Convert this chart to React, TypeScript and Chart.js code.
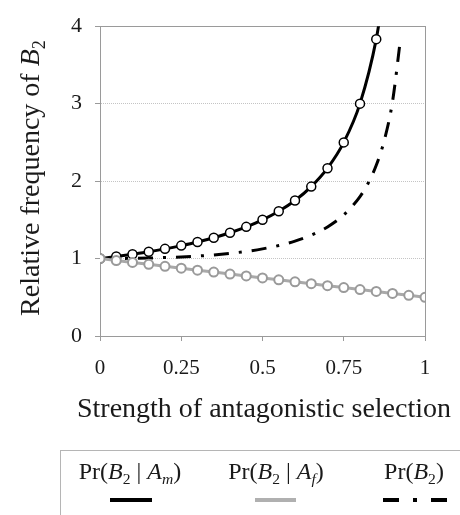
import React, { useEffect, useRef } from "react";
import { Chart, registerables } from "chart.js";

Chart.register(...registerables);

// Strength of antagonistic selection (x) and relative frequency of B2 (y)
const sAm = [0, 0.05, 0.1, 0.15, 0.2, 0.25, 0.3, 0.35, 0.4, 0.45, 0.5, 0.55, 0.6, 0.65, 0.7, 0.75, 0.8, 0.85, 0.875];
const prAm = [1, 1.026, 1.056, 1.088, 1.125, 1.167, 1.214, 1.269, 1.333, 1.409, 1.5, 1.611, 1.75, 1.929, 2.167, 2.5, 3.0, 3.833, 4.5];
const markerAm = [true, true, true, true, true, true, true, true, true, true, true, true, true, true, true, true, true, true, false];

const sAf = [0, 0.05, 0.1, 0.15, 0.2, 0.25, 0.3, 0.35, 0.4, 0.45, 0.5, 0.55, 0.6, 0.65, 0.7, 0.75, 0.8, 0.85, 0.9, 0.95, 1];
const prAf = [1, 0.975, 0.95, 0.925, 0.9, 0.875, 0.85, 0.825, 0.8, 0.775, 0.75, 0.725, 0.7, 0.675, 0.65, 0.625, 0.6, 0.575, 0.55, 0.525, 0.5];

const sB2 = [0, 0.05, 0.1, 0.15, 0.2, 0.25, 0.3, 0.35, 0.4, 0.45, 0.5, 0.55, 0.6, 0.65, 0.7, 0.75, 0.8, 0.825, 0.85, 0.875, 0.9, 0.925];
const prB2 = [1, 1.001, 1.003, 1.007, 1.013, 1.021, 1.032, 1.047, 1.067, 1.092, 1.125, 1.168, 1.225, 1.302, 1.408, 1.563, 1.8, 1.972, 2.204, 2.531, 3.025, 3.852];

const xTicks = [0, 0.25, 0.5, 0.75, 1];
const yTicks = [0, 1, 2, 3, 4];

const FONT = "'Liberation Serif', 'Times New Roman', serif";

type Seg = { t: string; i?: boolean; sub?: boolean };

const yTitle: Seg[] = [{ t: "Relative frequency of " }, { t: "B", i: true }, { t: "2", sub: true }];
const xTitle: Seg[] = [{ t: "Strength of antagonistic selection" }];
const legendLabels: Seg[][] = [
  [{ t: "Pr(" }, { t: "B", i: true }, { t: "2", sub: true }, { t: " | " }, { t: "A", i: true }, { t: "m", i: true, sub: true }, { t: ")" }],
  [{ t: "Pr(" }, { t: "B", i: true }, { t: "2", sub: true }, { t: " | " }, { t: "A", i: true }, { t: "f", i: true, sub: true }, { t: ")" }],
  [{ t: "Pr(" }, { t: "B", i: true }, { t: "2", sub: true }, { t: ")" }],
];

function segFont(s: Seg, size: number) {
  const sz = s.sub ? size * 0.65 : size;
  return `${s.i ? "italic " : ""}${sz}px ${FONT}`;
}

function richWidth(ctx: CanvasRenderingContext2D, segs: Seg[], size: number) {
  let w = 0;
  for (const s of segs) {
    ctx.font = segFont(s, size);
    w += ctx.measureText(s.t).width;
  }
  return w;
}

function drawRich(ctx: CanvasRenderingContext2D, segs: Seg[], cx: number, baseline: number, size: number) {
  const w = richWidth(ctx, segs, size);
  let x = cx - w / 2;
  ctx.textAlign = "left";
  ctx.textBaseline = "alphabetic";
  for (const s of segs) {
    ctx.font = segFont(s, size);
    ctx.fillText(s.t, x, baseline + (s.sub ? size * 0.22 : 0));
    x += ctx.measureText(s.t).width;
  }
}

const decorPlugin = {
  id: "decor",
  beforeDatasetsDraw(chart: any) {
    const { ctx, chartArea: a } = chart;
    ctx.save();
    ctx.strokeStyle = "#9a9a9a";
    ctx.lineWidth = 1;
    ctx.strokeRect(Math.round(a.left) + 0.5, Math.round(a.top) + 0.5, Math.round(a.right - a.left), Math.round(a.bottom - a.top));
    ctx.restore();
  },
  afterDraw(chart: any) {
    const ctx: CanvasRenderingContext2D = chart.ctx;
    ctx.save();
    ctx.fillStyle = "#1a1a1a";
    // axis titles
    drawRich(ctx, xTitle, 264, 417, 28);
    ctx.save();
    ctx.translate(39, 178);
    ctx.rotate(-Math.PI / 2);
    drawRich(ctx, yTitle, 0, 0, 28);
    ctx.restore();

    // legend box
    ctx.strokeStyle = "#b5b5b5";
    ctx.lineWidth = 1;
    ctx.strokeRect(60.5, 450.5, 420, 80);

    const centers = [130, 276, 414];
    legendLabels.forEach((segs, k) => drawRich(ctx, segs, centers[k], 479, 24));

    ctx.lineWidth = 4;
    ctx.lineCap = "butt";
    ctx.strokeStyle = "#000";
    ctx.beginPath();
    ctx.moveTo(110, 500);
    ctx.lineTo(152, 500);
    ctx.stroke();
    ctx.strokeStyle = "#b0b0b0";
    ctx.beginPath();
    ctx.moveTo(255, 500);
    ctx.lineTo(296, 500);
    ctx.stroke();
    ctx.strokeStyle = "#000";
    ctx.setLineDash([16, 14, 4, 14]);
    ctx.beginPath();
    ctx.moveTo(383, 500);
    ctx.lineTo(448, 500);
    ctx.stroke();
    ctx.restore();
  },
};

export default function App() {
  const ref = useRef<HTMLCanvasElement | null>(null);

  useEffect(() => {
    if (!ref.current) return;
    const chart = new Chart(ref.current, {
      type: "line",
      data: {
        datasets: [
          {
            label: "Pr(B2 | Af)",
            data: sAf.map((x, i) => ({ x, y: prAf[i] })),
            borderColor: "#a9a9a9",
            borderWidth: 3,
            pointRadius: 4.5,
            pointBackgroundColor: "#ffffff",
            pointBorderColor: "#9a9a9a",
            pointBorderWidth: 2,
            order: 0,
          },
          {
            label: "Pr(B2 | Am)",
            data: sAm.map((x, i) => ({ x, y: prAm[i] })),
            borderColor: "#000000",
            borderWidth: 3,
            pointRadius: markerAm.map((m) => (m ? 4.5 : 0)),
            pointBackgroundColor: "#ffffff",
            pointBorderColor: "#000000",
            pointBorderWidth: 1.5,
            cubicInterpolationMode: "monotone",
            order: 1,
          },
          {
            label: "Pr(B2)",
            data: sB2.map((x, i) => ({ x, y: prB2[i] })),
            borderColor: "#000000",
            borderWidth: 3,
            borderDash: [15, 10, 3, 10],
            pointRadius: 0,
            cubicInterpolationMode: "monotone",
            order: 2,
          },
        ],
      },
      options: {
        animation: false,
        responsive: false,
        devicePixelRatio: 1,
        layout: { padding: { left: 0, top: 17, right: 35, bottom: 0 } },
        plugins: { legend: { display: false }, tooltip: { enabled: false } },
        scales: {
          x: {
            type: "linear",
            min: 0,
            max: 1,
            afterFit: (s: any) => {
              s.height = 179;
            },
            afterBuildTicks: (s: any) => {
              s.ticks = xTicks.map((v) => ({ value: v }));
            },
            ticks: {
              color: "#1a1a1a",
              font: { family: FONT, size: 21 },
              padding: 15,
              maxRotation: 0,
              callback: (v: any) => String(v),
            },
            grid: { drawOnChartArea: false, drawTicks: true, tickLength: 5, color: "#9a9a9a" },
            border: { color: "#9a9a9a" },
          },
          y: {
            type: "linear",
            min: 0,
            max: 4,
            afterFit: (s: any) => {
              s.width = 100;
            },
            afterBuildTicks: (s: any) => {
              s.ticks = yTicks.map((v) => ({ value: v }));
            },
            ticks: {
              color: "#1a1a1a",
              font: { family: FONT, size: 22 },
              padding: 13,
              callback: (v: any) => String(v),
            },
            grid: { color: "#c4c4c4", drawTicks: true, tickLength: 5, tickColor: "#9a9a9a" },
            border: { color: "#9a9a9a", dash: [1, 1] },
          },
        },
      },
      plugins: [decorPlugin],
    } as any);
    return () => chart.destroy();
  }, []);

  return (
    <div style={{ position: "absolute", left: 0, top: 0, width: 460, height: 515, background: "#fff" }}>
      <canvas ref={ref} width={460} height={515} style={{ display: "block" }} />
    </div>
  );
}
